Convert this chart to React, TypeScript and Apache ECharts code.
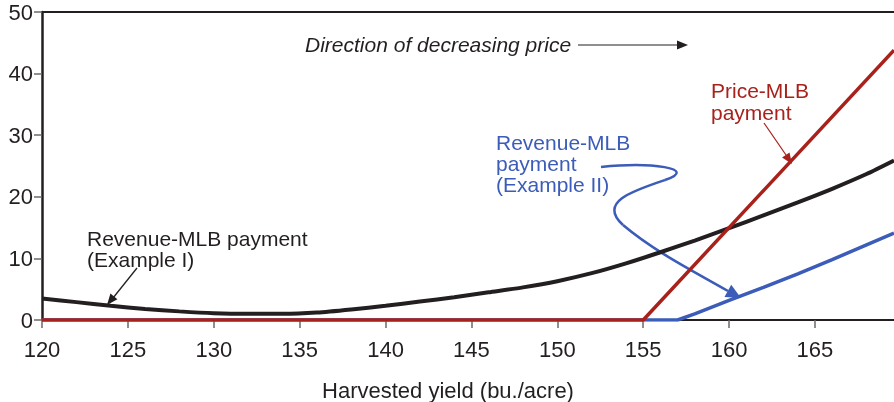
import React, { useEffect, useRef } from "react";
import * as echarts from "echarts";

// Revenue-MLB payment (Example I)
const revIYield = [120, 122, 124, 126, 128, 130, 132, 134, 136, 138, 140, 142, 144, 146, 148, 150, 152, 154, 156, 158, 160, 162, 164, 166, 168, 169.6];
const revIPayment = [3.5, 2.9, 2.3, 1.8, 1.4, 1.1, 1.0, 1.0, 1.2, 1.7, 2.3, 3.0, 3.7, 4.5, 5.3, 6.3, 7.6, 9.2, 11.0, 12.9, 14.9, 17.0, 19.1, 21.3, 23.7, 25.9];

// Revenue-MLB payment (Example II)
const revIIYield = [120, 157, 158, 160, 162, 164, 166, 168, 169.6];
const revIIPayment = [0, 0, 1.0, 3.2, 5.3, 7.5, 9.8, 12.2, 14.1];

// Price-MLB payment
const priceYield = [120, 155, 169.6];
const pricePayment = [0, 0, 43.8];

const xMin = 120;
const xMax = 169.6;
const xInterval = 5;
const yMin = 0;
const yMax = 50;
const yInterval = 10;

const FONT = "'Liberation Sans', Arial, Helvetica, sans-serif";
const INK = "#231f20";
const RED = "#a8211b";
const BLUE = "#3b5cb8";
const TICK = "#6a6a6a";

const zip = (xs: number[], ys: number[]) => xs.map((x, i) => [x, ys[i]]);

export default function App() {
  const ref = useRef<HTMLDivElement>(null);
  useEffect(() => {
    if (!ref.current) return;
    const chart = echarts.init(ref.current, undefined, { renderer: "svg" });
    const arrowHead = (tx: number, ty: number, fx: number, fy: number, len: number, half: number, color: string) => {
      const dx = tx - fx;
      const dy = ty - fy;
      const d = Math.sqrt(dx * dx + dy * dy);
      const ux = dx / d;
      const uy = dy / d;
      const bx = tx - ux * len;
      const by = ty - uy * len;
      return {
        type: "polygon",
        shape: { points: [[tx, ty], [bx - uy * half, by + ux * half], [bx + uy * half, by - ux * half]] },
        style: { fill: color },
        z: 100,
      };
    };
    chart.setOption({
      animation: false,
      grid: { left: 42, right: 0, top: 12, bottom: 82, containLabel: false, outerBoundsMode: "none" },
      xAxis: [
        {
          type: "value",
          min: xMin,
          max: xMax,
          interval: xInterval,
          name: "Harvested yield (bu./acre)",
          nameLocation: "middle",
          nameGap: 59,
          nameTextStyle: { fontSize: 22, color: INK, fontFamily: FONT, lineHeight: 22, padding: [0, 40, 0, 0] },
          axisLine: { show: true, lineStyle: { color: INK, width: 2 } },
          axisTick: { show: true, length: 8, lineStyle: { color: TICK, width: 1.5 } },
          axisLabel: { fontSize: 22, color: INK, fontFamily: FONT, margin: 18, showMaxLabel: false },
          splitLine: { show: false },
        },
        {
          type: "value",
          position: "top",
          min: xMin,
          max: xMax,
          axisLine: { show: true, lineStyle: { color: INK, width: 2 } },
          axisTick: { show: false },
          axisLabel: { show: false },
          splitLine: { show: false },
        },
      ],
      yAxis: {
        type: "value",
        min: yMin,
        max: yMax,
        interval: yInterval,
        axisLine: { show: true, lineStyle: { color: INK, width: 2.5 } },
        axisTick: { show: true, length: 8, lineStyle: { color: TICK, width: 1.5 } },
        axisLabel: { fontSize: 22, color: INK, fontFamily: FONT, margin: 9 },
        splitLine: { show: false },
      },
      series: [
        {
          type: "line",
          data: zip(revIYield, revIPayment),
          smooth: 0.25,
          symbol: "none",
          lineStyle: { color: INK, width: 4 },
          z: 2,
        },
        {
          type: "line",
          data: zip(revIIYield, revIIPayment),
          symbol: "none",
          lineStyle: { color: BLUE, width: 3.5 },
          z: 3,
        },
        {
          type: "line",
          data: zip(priceYield, pricePayment),
          symbol: "none",
          lineStyle: { color: RED, width: 3.5 },
          z: 4,
        },
      ],
      graphic: [
        // Direction of decreasing price
        {
          type: "text",
          x: 305,
          y: 44,
          style: { text: "Direction of decreasing price", font: `italic 21px ${FONT}`, fill: INK, textAlign: "left", textVerticalAlign: "middle" },
        },
        { type: "line", shape: { x1: 578, y1: 45, x2: 678, y2: 45 }, style: { stroke: INK, lineWidth: 1.2 } },
        arrowHead(688, 45, 578, 45, 11, 4.5, INK),
        // Revenue-MLB payment (Example I)
        {
          type: "text",
          x: 87,
          y: 228,
          style: { text: "Revenue-MLB payment\n(Example I)", font: `21px ${FONT}`, fill: INK, lineHeight: 21, textAlign: "left", textVerticalAlign: "top" },
        },
        { type: "line", shape: { x1: 137, y1: 268, x2: 113, y2: 298 }, style: { stroke: INK, lineWidth: 1.3 } },
        arrowHead(107, 305, 137, 268, 11, 4.5, INK),
        // Price-MLB payment
        {
          type: "text",
          x: 711,
          y: 79,
          style: { text: "Price-MLB\npayment", font: `21px ${FONT}`, fill: RED, lineHeight: 22, textAlign: "left", textVerticalAlign: "top" },
        },
        { type: "line", shape: { x1: 764, y1: 123, x2: 786, y2: 155 }, style: { stroke: RED, lineWidth: 1.3 } },
        arrowHead(792, 164, 764, 123, 11, 4.5, RED),
        // Revenue-MLB payment (Example II)
        {
          type: "text",
          x: 496,
          y: 132,
          style: { text: "Revenue-MLB\npayment\n(Example II)", font: `21px ${FONT}`, fill: BLUE, lineHeight: 21, textAlign: "left", textVerticalAlign: "top" },
        },
        {
          type: "bezierCurve",
          shape: { x1: 601, y1: 167, cpx1: 650, cpy1: 162, cpx2: 700, cpy2: 168, x2: 665, y2: 180 },
          style: { stroke: BLUE, lineWidth: 2.5, fill: "none" },
        },
        {
          type: "bezierCurve",
          shape: { x1: 665, y1: 180, cpx1: 632, cpy1: 191, cpx2: 598, cpy2: 202, x2: 623, y2: 225 },
          style: { stroke: BLUE, lineWidth: 2.5, fill: "none" },
        },
        {
          type: "bezierCurve",
          shape: { x1: 623, y1: 225, cpx1: 655, cpy1: 252, cpx2: 695, cpy2: 272, x2: 728, y2: 291 },
          style: { stroke: BLUE, lineWidth: 2.5, fill: "none" },
        },
        arrowHead(741, 298, 710, 281, 15, 7, BLUE),
      ],
    });
    return () => chart.dispose();
  }, []);
  return <div ref={ref} style={{ position: "fixed", left: 0, top: 0, width: 894, height: 402 }} />;
}
